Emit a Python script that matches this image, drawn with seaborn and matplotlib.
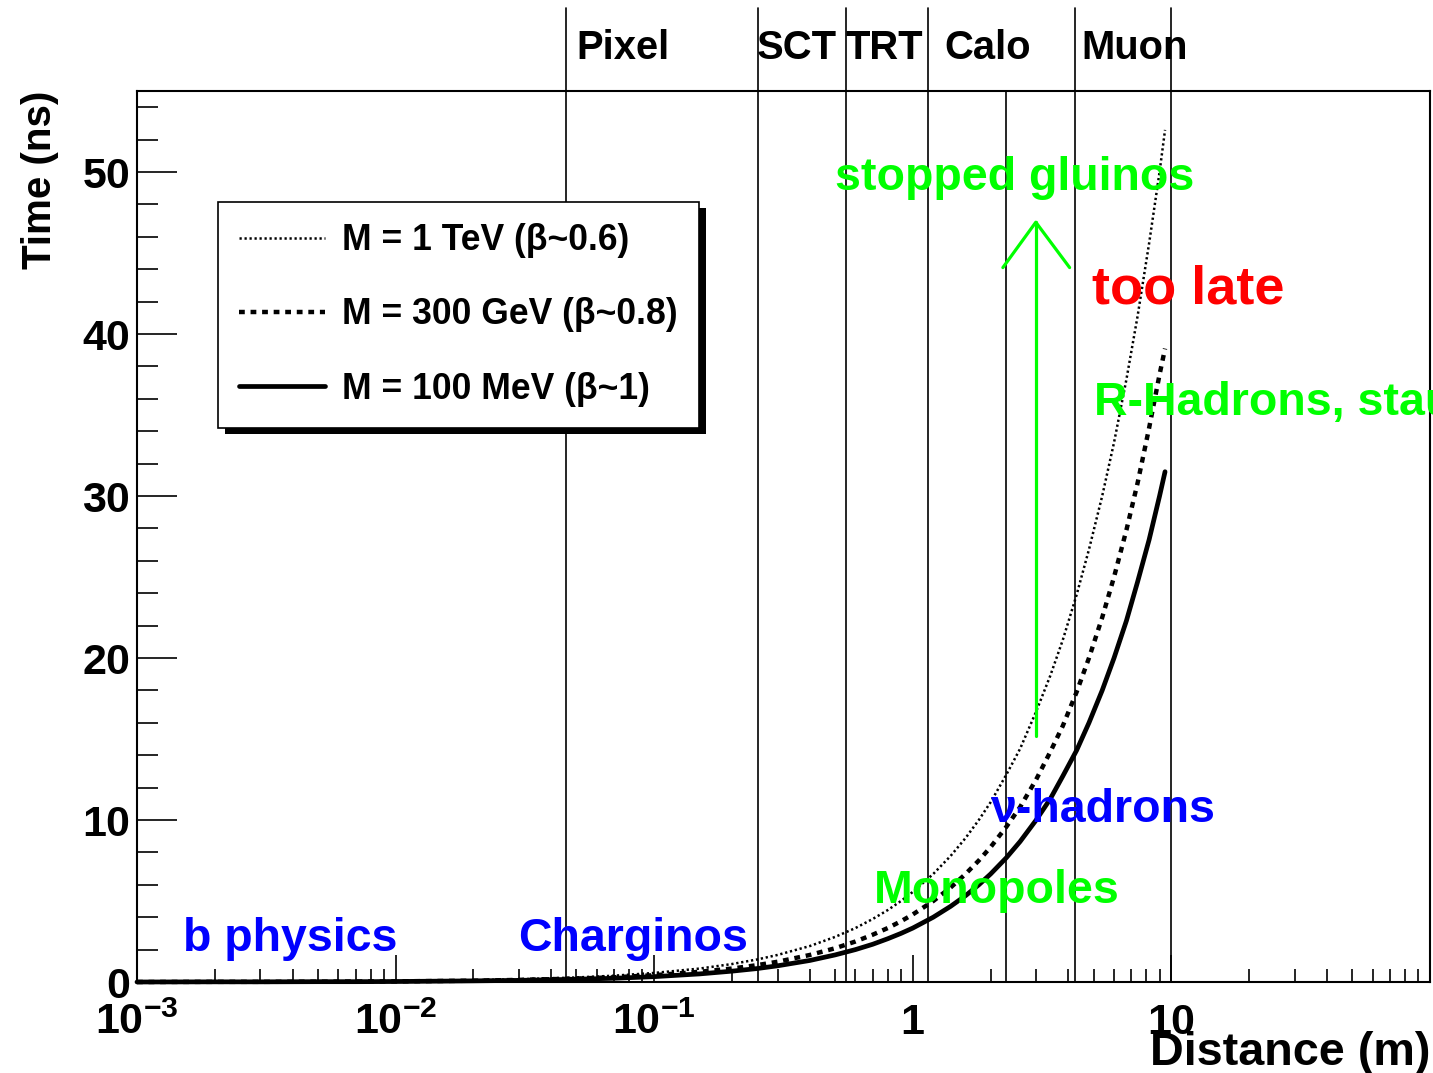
import numpy as np
import pandas as pd
import matplotlib
matplotlib.use("Agg")
import matplotlib.pyplot as plt
from matplotlib.patches import Rectangle
from matplotlib.transforms import IdentityTransform
import seaborn as sns

# ---------------- data ----------------
distance_m = [0.001, 0.002, 0.003, 0.005, 0.007, 0.01, 0.02, 0.03, 0.05, 0.07,
              0.1, 0.15, 0.2, 0.25, 0.3, 0.4, 0.5, 0.6, 0.7, 0.8, 0.9, 1.0,
              1.2, 1.4, 1.6, 1.8, 2.0, 2.3, 2.6, 3.0, 3.4, 3.8, 4.3, 4.8,
              5.4, 6.0, 6.7, 7.4, 8.2, 9.0, 9.45]
time_1tev = [0.01, 0.01, 0.02, 0.03, 0.04, 0.06, 0.11, 0.17, 0.28, 0.39,
             0.56, 0.83, 1.11, 1.39, 1.67, 2.22, 2.78, 3.33, 3.89, 4.44, 5.00, 5.56,
             6.67, 7.78, 8.89, 10.0, 11.1, 12.8, 14.4, 16.7, 18.9, 21.1, 23.9, 26.7,
             30.0, 33.3, 37.2, 41.1, 45.6, 50.0, 52.6]
time_300gev = [0.00, 0.01, 0.01, 0.02, 0.03, 0.04, 0.08, 0.13, 0.21, 0.29,
               0.42, 0.63, 0.83, 1.04, 1.25, 1.67, 2.08, 2.50, 2.92, 3.33, 3.75, 4.17,
               5.00, 5.83, 6.67, 7.50, 8.33, 9.58, 10.8, 12.5, 14.2, 15.8, 17.9, 20.0,
               22.5, 25.0, 27.9, 30.8, 34.2, 37.5, 39.1]
time_100mev = [0.00, 0.01, 0.01, 0.02, 0.02, 0.03, 0.07, 0.10, 0.17, 0.23,
               0.33, 0.50, 0.67, 0.83, 1.00, 1.33, 1.67, 2.00, 2.33, 2.67, 3.00, 3.33,
               4.00, 4.67, 5.33, 6.00, 6.67, 7.67, 8.67, 10.0, 11.3, 12.7, 14.3, 16.0,
               18.0, 20.0, 22.3, 24.7, 27.3, 30.0, 31.5]
series_labels = ["M = 1 TeV (\u03b2~0.6)", "M = 300 GeV (\u03b2~0.8)", "M = 100 MeV (\u03b2~1)"]

detector_bounds = [0.0456, 0.251, 0.551, 1.144, 2.29, 4.25, 10.0]
detector_names = ["Pixel", "SCT", "TRT", "Calo", "Muon"]
detector_label_x = [0.0498, 0.249, 0.550, 1.327, 4.49]

annot_text = ["b physics", "Charginos", "Monopoles", "\u03bd-hadrons",
              "stopped gluinos", "too late", "R-Hadrons, staus"]
annot_x = [0.00151, 0.0299, 0.705, 1.98, 0.502, 4.95, 5.04]
annot_y = [1.9, 1.9, 4.9, 9.85, 48.9, 41.9, 35.0]
annot_color = ["#0000ff", "#0000ff", "#00ff00", "#0000ff", "#00ff00", "#ff0000", "#00ff00"]

arrow_shaft_x = [2.99, 2.99]
arrow_shaft_y = [15.2, 46.9]
arrow_head_x = [2.23, 2.99, 4.04]
arrow_head_y = [44.1, 46.9, 44.1]

xtick_vals = [1e-3, 1e-2, 1e-1, 1, 10]
xtick_labels = [r"$\mathbf{10^{-3}}$", r"$\mathbf{10^{-2}}$", r"$\mathbf{10^{-1}}$",
                r"$\mathbf{1}$", r"$\mathbf{10}$"]
ytick_vals = [0, 10, 20, 30, 40, 50]

# ---------------- style ----------------
sns.set_theme(style="white")
plt.rcParams["font.family"] = ["Liberation Sans", "DejaVu Sans"]
plt.rcParams["font.weight"] = "bold"
plt.rcParams["text.color"] = "black"
plt.rcParams["axes.labelcolor"] = "black"
plt.rcParams["xtick.color"] = "black"
plt.rcParams["ytick.color"] = "black"
plt.rcParams["mathtext.fontset"] = "custom"
plt.rcParams["mathtext.bf"] = "Liberation Sans:bold"
plt.rcParams["mathtext.rm"] = "Liberation Sans:bold"
plt.rcParams["mathtext.it"] = "Liberation Sans:bold"

W, H = 1433, 1073
fig = plt.figure(figsize=(W / 100, H / 100), dpi=100)
L, R, T, B = 137, 1430, 91, 982
ax = fig.add_axes([L / W, 1 - B / H, (R - L) / W, (B - T) / H])

df = pd.DataFrame({"d": distance_m, "t1": time_1tev, "t2": time_300gev, "t3": time_100mev})

sns.lineplot(data=df, x="d", y="t1", ax=ax, color="black", lw=1.8,
             label=series_labels[0], zorder=3, clip_on=False)
sns.lineplot(data=df, x="d", y="t2", ax=ax, color="black", lw=3.2,
             label=series_labels[1], zorder=3, clip_on=False)
sns.lineplot(data=df, x="d", y="t3", ax=ax, color="black", lw=3.4,
             label=series_labels[2], zorder=3, clip_on=False)
lines = ax.get_lines()
lines[0].set_linestyle((0, (0.9, 1.1)))
lines[1].set_linestyle((0, (1.3, 1.3)))
lines[2].set_linestyle("-")

ax.set_xscale("log")
ax.set_xlim(1e-3, 1e2)
ax.set_ylim(0, 55)

# detector boundaries (extend above the frame except the 2.29 m one)
for xb in detector_bounds:
    top = 55 if abs(xb - 2.29) < 0.01 else 60.1
    ax.plot([xb, xb], [0, top], color="black", lw=1.2, clip_on=False, zorder=2)
for name, xl in zip(detector_names, detector_label_x):
    ax.text(xl, 57.0, name, fontsize=28.8, fontweight="bold", ha="left",
            va="baseline", clip_on=False)

# annotations
for txt, x, y, c in zip(annot_text, annot_x, annot_y, annot_color):
    fs = 39 if txt == "too late" else 33.5
    ax.text(x, y, txt, color=c, fontsize=fs, fontweight="bold", ha="left",
            va="baseline", zorder=4)

ax.plot(arrow_shaft_x, arrow_shaft_y, color="#00ff00", lw=2.3, zorder=4)
ax.plot(arrow_head_x, arrow_head_y, color="#00ff00", lw=2.3, zorder=4)

# ticks
ax.set_xticks(xtick_vals)
ax.set_xticklabels(xtick_labels)
ax.set_yticks(ytick_vals)
ax.set_yticklabels([str(v) for v in ytick_vals])
ax.xaxis.set_minor_locator(matplotlib.ticker.LogLocator(base=10, subs=np.arange(2, 10)))
ax.xaxis.set_minor_formatter(matplotlib.ticker.NullFormatter())
ax.yaxis.set_minor_locator(matplotlib.ticker.MultipleLocator(2))
ax.tick_params(axis="y", which="major", direction="in", length=28.8, width=1.2,
               labelsize=31, pad=5, left=True, right=False)
ax.tick_params(axis="y", which="minor", direction="in", length=15, width=1.2,
               left=True, right=False)
ax.tick_params(axis="x", which="major", direction="in", length=19.4, width=1.2,
               labelsize=31, pad=15, bottom=True, top=False)
ax.tick_params(axis="x", which="minor", direction="in", length=9.4, width=1.2,
               bottom=True, top=False)
for lab in ax.get_yticklabels():
    lab.set_fontweight("bold")

for s in ax.spines.values():
    s.set_linewidth(1.5)
    s.set_color("black")

ax.set_xlabel("Distance (m)", fontsize=33.7, fontweight="bold", loc="right")
ax.xaxis.set_label_coords(1.0, -0.055)
ax.set_ylabel("Time (ns)", fontsize=29, fontweight="bold", loc="top")
ax.yaxis.set_label_coords(-0.060, 1.0)

# legend
leg = ax.legend(loc="upper left", bbox_to_anchor=((218 - L) / (R - L), (B - 202) / (B - T)),
                borderaxespad=0, handlelength=2.4, handletextpad=0.5,
                labelspacing=1.1, borderpad=0.6, fancybox=False, framealpha=1,
                edgecolor="black", prop={"weight": "bold", "size": 25.6})
leg.get_frame().set_linewidth(1.2)

fig.canvas.draw()
bb = leg.get_window_extent()
ax.add_patch(Rectangle((bb.x0 + 7, bb.y0 - 6), bb.width, bb.height,
                       transform=IdentityTransform(), facecolor="black",
                       edgecolor="none", zorder=4.9, clip_on=False))

fig.savefig("out.png", dpi=100)
